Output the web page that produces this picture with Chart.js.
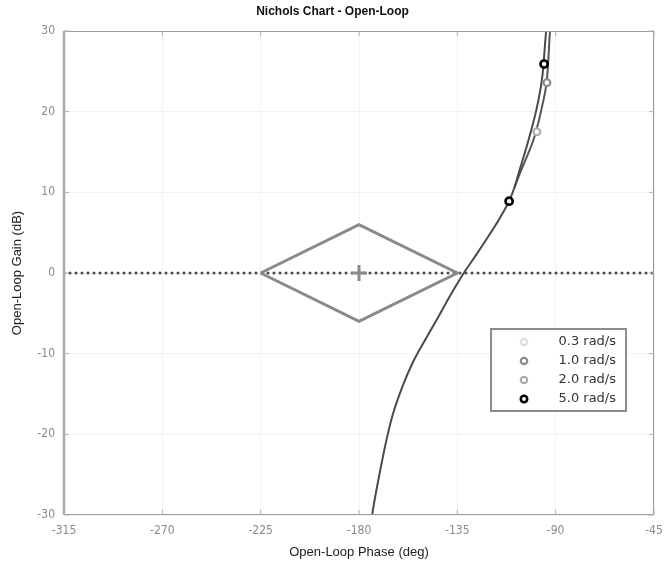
<!DOCTYPE html>
<html>
<head>
<meta charset="utf-8">
<script src="https://cdn.jsdelivr.net/npm/chart.js@4/dist/chart.umd.min.js"></script>
<style>
html, body { margin: 0; padding: 0; background: #fff; }
#wrap { width: 665px; height: 563px; }
</style>
</head>
<body>
<div id="wrap"><canvas id="nichols"></canvas></div>
<script>
const phaseTicks = [-315, -270, -225, -180, -135, -90, -45];
const gainTicks = [-30, -20, -10, 0, 10, 20, 30];

// open-loop response, lower part + left upper branch
const mainPhase = [-174.2, -173.7, -170.6, -167.6, -164.6, -160.0, -155.4, -149.3, -143.2, -138.7, -134.1, -131.8, -126.0, -120.4, -115.6, -111.3, -109.0, -106.9, -102.1, -98.3, -96.0, -94.5, -94.2];
const mainGain = [-30.5, -29.5, -24.9, -20.9, -17.6, -14.0, -11.1, -8.1, -5.2, -3.0, -0.9, 0.1, 2.4, 4.7, 6.8, 8.9, 10.5, 12.4, 16.8, 20.9, 24.6, 29.6, 30.5];
// right upper branch
const branchPhase = [-109.0, -106.0, -102.6, -99.8, -96.0, -93.8, -92.7, -92.5];
const branchGain = [10.5, 12.6, 14.8, 16.8, 20.9, 24.6, 29.6, 30.5];

const diamondPhase = [-225, -180, -135, -180, -225];
const diamondGain = [0, 6, 0, -6, 0];

const zeroPhase = [-315, -45];
const zeroGain = [0, 0];

const centerPhase = [-180];
const centerGain = [0];

const freqLabels = ['0.3 rad/s', '1.0 rad/s', '2.0 rad/s', '5.0 rad/s'];
const freqPhase = [[], [-94.0], [-98.6], [-111.3, -95.3]];
const freqGain = [[], [23.6], [17.5], [8.9, 25.9]];
const freqColors = ['#dedede', '#8a8a8a', '#acacac', '#000000'];

const pts = (xs, ys) => xs.map((x, i) => ({ x: x, y: ys[i] }));

const tickFont = { family: "'Liberation Sans Narrow', 'DejaVu Sans Condensed', Arial, sans-serif", size: 12 };
const labelFont = { family: "'Liberation Sans', Arial, sans-serif", size: 13 };

// frame + small inward ticks like the original plot
const framePlugin = {
    id: 'frame',
    afterDatasetsDraw(chart) {
        const { ctx, chartArea: a, scales } = chart;
        ctx.save();
        ctx.strokeStyle = '#9a9a9a';
        ctx.lineWidth = 1;
        ctx.strokeRect(a.left + 0.5, a.top + 0.5, a.right - a.left - 1, a.bottom - a.top - 1);
        ctx.lineWidth = 2.5;
        ctx.strokeStyle = '#a8a8a8';
        ctx.beginPath();
        ctx.moveTo(a.left, a.top);
        ctx.lineTo(a.left, a.bottom);
        ctx.stroke();
        ctx.lineWidth = 1;
        ctx.strokeStyle = '#b0b0b0';
        ctx.beginPath();
        gainTicks.forEach(v => {
            const y = scales.y.getPixelForValue(v);
            ctx.moveTo(a.left, y); ctx.lineTo(a.left + 5, y);
            ctx.moveTo(a.right, y); ctx.lineTo(a.right - 5, y);
        });
        phaseTicks.forEach(v => {
            const x = scales.x.getPixelForValue(v);
            ctx.moveTo(x, a.top); ctx.lineTo(x, a.top + 5);
            ctx.moveTo(x, a.bottom); ctx.lineTo(x, a.bottom - 5);
        });
        ctx.stroke();
        ctx.restore();
    }
};

// legend box inside the plot, lower right
const boxLegend = {
    id: 'boxLegend',
    afterDraw(chart) {
        const { ctx, chartArea: a } = chart;
        const left = a.right - 163, top = a.top + 298, w = 135, h = 82;
        ctx.save();
        ctx.fillStyle = '#fff';
        ctx.fillRect(left, top, w, h);
        ctx.strokeStyle = '#8c8c8c';
        ctx.lineWidth = 2;
        ctx.strokeRect(left, top, w, h);
        ctx.font = "13px 'DejaVu Sans', Verdana, sans-serif";
        ctx.textAlign = 'right';
        ctx.textBaseline = 'middle';
        freqLabels.forEach((lab, i) => {
            const y = top + 13 + i * 19;
            ctx.beginPath();
            ctx.arc(left + 33, y, 3.2, 0, Math.PI * 2);
            ctx.fillStyle = '#fff';
            ctx.fill();
            ctx.lineWidth = i === 3 ? 2.6 : 2.2;
            ctx.strokeStyle = freqColors[i];
            ctx.stroke();
            ctx.fillStyle = '#333';
            ctx.fillText(lab, left + 125, y);
        });
        ctx.restore();
    }
};

const markerSets = freqLabels.map((lab, i) => ({
    label: lab,
    data: pts(freqPhase[i], freqGain[i]),
    showLine: false,
    pointStyle: 'circle',
    pointRadius: i === 3 ? 3.6 : 3.4,
    pointBorderWidth: i === 3 ? 2.6 : 2.2,
    pointBorderColor: freqColors[i],
    pointBackgroundColor: '#fff',
    order: 0
}));

new Chart(document.getElementById('nichols'), {
    type: 'scatter',
    data: {
        datasets: [
            {
                label: '0 dB',
                data: pts(zeroPhase, zeroGain),
                showLine: true,
                borderColor: '#4a4a4a',
                borderWidth: 3,
                borderDash: [0, 6],
                borderCapStyle: 'round',
                pointRadius: 0,
                order: 3
            },
            {
                label: 'margin',
                data: pts(diamondPhase, diamondGain),
                showLine: true,
                borderColor: '#8a8a8a',
                borderWidth: 3,
                pointRadius: 0,
                tension: 0,
                order: 2
            },
            {
                label: 'critical',
                data: pts(centerPhase, centerGain),
                showLine: false,
                pointStyle: 'cross',
                pointRadius: 8,
                pointBorderWidth: 3,
                pointBorderColor: '#8a8a8a',
                order: 2
            },
            {
                label: 'L(jw)',
                data: pts(mainPhase, mainGain),
                showLine: true,
                borderColor: '#4a4a4a',
                borderWidth: 2,
                pointRadius: 0,
                cubicInterpolationMode: 'monotone',
                order: 1
            },
            {
                label: 'L(jw) 2',
                data: pts(branchPhase, branchGain),
                showLine: true,
                borderColor: '#555',
                borderWidth: 2,
                pointRadius: 0,
                cubicInterpolationMode: 'monotone',
                order: 1
            },
            ...markerSets
        ]
    },
    options: {
        responsive: true,
        maintainAspectRatio: false,
        animation: false,
        layout: { padding: { left: 0, right: 0, top: 0, bottom: 0 } },
        plugins: {
            legend: { display: false },
            tooltip: { enabled: false },
            title: {
                display: true,
                text: 'Nichols Chart - Open-Loop',
                color: '#111',
                font: { family: "'Liberation Sans', Arial, sans-serif", size: 12, weight: 'bold' },
                padding: { top: 4, bottom: 12.6 }
            }
        },
        scales: {
            x: {
                type: 'linear',
                min: -315,
                max: -45,
                afterBuildTicks: axis => { axis.ticks = phaseTicks.map(v => ({ value: v })); },
                afterFit: scale => { scale.height = 48; scale.paddingRight = 10; },
                grid: { color: '#f3f3f3', drawTicks: false },
                border: { display: false },
                ticks: { color: '#8a8a8a', font: tickFont, padding: 9, maxRotation: 0 },
                title: { display: true, text: 'Open-Loop Phase (deg)', color: '#222', font: labelFont, padding: { top: 0, bottom: 3 } }
            },
            y: {
                type: 'linear',
                min: -30,
                max: 30,
                afterBuildTicks: axis => { axis.ticks = gainTicks.map(v => ({ value: v })); },
                afterFit: scale => { scale.width = 64; },
                grid: { color: '#f3f3f3', drawTicks: false },
                border: { display: false },
                ticks: { color: '#8a8a8a', font: tickFont, padding: 9 },
                title: { display: true, text: 'Open-Loop Gain (dB)', color: '#222', font: labelFont, padding: { top: 10, bottom: 0 } }
            }
        }
    },
    plugins: [framePlugin, boxLegend]
});
</script>
</body>
</html>
